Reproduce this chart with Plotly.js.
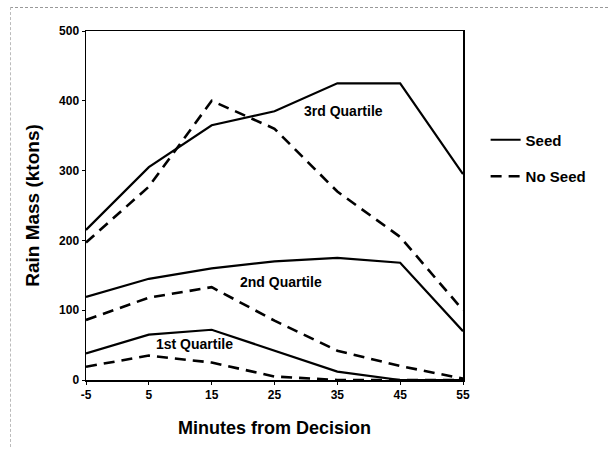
<!DOCTYPE html>
<html>
<head>
<meta charset="utf-8">
<script src="https://cdn.plot.ly/plotly-3.0.1.min.js"></script>
<style>
html,body{margin:0;padding:0;background:#fff;}
#wrap{position:relative;width:608px;height:457px;}
#chart{width:608px;height:457px;}
#topline{position:absolute;left:10px;top:7px;width:598px;height:0;border-top:1px dashed #999;}
#leftline{position:absolute;left:10px;top:7px;width:0;height:440px;border-left:1px dashed #bbb;}
</style>
</head>
<body>
<div id="wrap">
<div id="chart"></div>
<div id="topline"></div>
<div id="leftline"></div>
</div>
<script>
const minutes = [-5, 5, 15, 25, 35, 45, 55];
const q3Seed   = [215, 305, 365, 385, 425, 425, 295];
const q3NoSeed = [197, 277, 400, 360, 270, 205, 100];
const q2Seed   = [119, 145, 160, 170, 175, 168, 70];
const q2NoSeed = [86, 118, 133, 85, 42, 20, 2];
const q1Seed   = [38, 65, 72, 42, 12, 0, 0];
const q1NoSeed = [19, 35, 25, 5, 0, 0, 0];
const quartileLabels = ["3rd Quartile", "2nd Quartile", "1st Quartile"];
const labelX = [36, 26, 12.3];
const labelY = [386, 140, 51];

const solid = {color: '#000', width: 2.2};
const dashed = {color: '#000', width: 2.6, dash: '11px,7px'};

function tr(y, line, name, group, show) {
  return {x: minutes, y: y, type: 'scatter', mode: 'lines', line: line,
          name: name, legendgroup: group, showlegend: show, hoverinfo: 'skip'};
}

const data = [
  tr(q3Seed, solid, 'Seed', 'seed', true),
  tr(q2Seed, solid, 'Seed', 'seed', false),
  tr(q1Seed, solid, 'Seed', 'seed', false),
  tr(q3NoSeed, dashed, 'No Seed', 'noseed', true),
  tr(q2NoSeed, dashed, 'No Seed', 'noseed', false),
  tr(q1NoSeed, dashed, 'No Seed', 'noseed', false)
];

const annotations = quartileLabels.map((t, i) => ({
  x: labelX[i], y: labelY[i], xref: 'x', yref: 'y', text: t, showarrow: false,
  font: {family: 'Liberation Sans, Arial, sans-serif', size: 14, color: '#000', weight: 'bold'}
}));

const layout = {
  width: 608, height: 457,
  margin: {l: 86, r: 145, t: 31, b: 77},
  paper_bgcolor: '#fff', plot_bgcolor: '#fff',
  font: {family: 'Liberation Sans, Arial, sans-serif', color: '#000'},
  showlegend: true,
  legend: {x: 1.06, y: 0.735, xanchor: 'left', yanchor: 'top',
           font: {size: 15, weight: 'bold'}, tracegroupgap: 14, bgcolor: 'rgba(0,0,0,0)'},
  xaxis: {
    range: [-5, 55], tickvals: minutes, ticktext: minutes.map(String),
    showgrid: false, zeroline: false, showline: true, linecolor: '#000', linewidth: 1.5,
    mirror: true, ticks: 'outside', ticklen: 3, tickcolor: '#000',
    tickfont: {size: 12, weight: 'bold'},
    title: {text: 'Minutes from Decision', font: {size: 18, weight: 'bold'}, standoff: 20}
  },
  yaxis: {
    range: [0, 500], tickvals: [0, 100, 200, 300, 400, 500],
    showgrid: false, zeroline: false, showline: true, linecolor: '#000', linewidth: 1.5,
    mirror: true, ticks: 'outside', ticklen: 3, tickcolor: '#000',
    tickfont: {size: 12, weight: 'bold'},
    title: {text: 'Rain Mass (ktons)', font: {size: 19, weight: 'bold'}, standoff: 14}
  },
  annotations: annotations
};

Plotly.newPlot('chart', data, layout, {displayModeBar: false, staticPlot: true});
</script>
</body>
</html>
